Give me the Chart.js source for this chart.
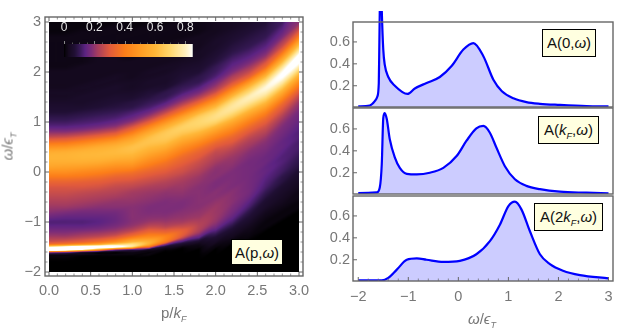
<!DOCTYPE html>
<html>
<head>
<meta charset="utf-8">
<script src="https://cdn.jsdelivr.net/npm/chart.js@4/dist/chart.umd.min.js"></script>
<style>
html, body { margin: 0; padding: 0; background: #fff; }
#page { position: relative; width: 630px; height: 335px; overflow: hidden; font-family: "Liberation Sans", sans-serif; }
canvas { position: absolute; }
.tag { position: absolute; background: #ffffe0; border: 1px solid #000; box-sizing: border-box; color: #111; font-size: 15px; line-height: 26px; text-align: center; white-space: nowrap; }
.title { position: absolute; color: #777; font-size: 15px; white-space: nowrap; }
i sub { font-size: 9px; line-height: 0; }
</style>
</head>
<body>
<div id="page">
  <canvas id="heat" width="320" height="335" style="left:0;top:0"></canvas>
  <canvas id="scale" width="160" height="45" style="left:50px;top:20px"></canvas>
  <canvas id="a0" width="310" height="108" style="left:320px;top:0"></canvas>
  <canvas id="a1" width="310" height="88" style="left:320px;top:107px"></canvas>
  <canvas id="a2" width="310" height="140" style="left:320px;top:195px"></canvas>
  <div class="tag" style="left:231px;top:239px;width:52px;height:26px;border-color:#000">A(p,<i>ω</i>)</div>
  <div class="tag" style="left:542px;top:29px;width:54px;height:28px">A(0,<i>ω</i>)</div>
  <div class="tag" style="left:538px;top:116px;width:61px;height:28px">A(<i>k<sub>F</sub></i>,<i>ω</i>)</div>
  <div class="tag" style="left:534px;top:203px;width:69px;height:28px">A(2<i>k<sub>F</sub></i>,<i>ω</i>)</div>
  <div class="title" style="left:161px;top:304px">p/<i>k<sub>F</sub></i></div>
  <div class="title" style="left:-7px;top:138px;transform:rotate(-90deg)"><i>ω</i>/<i>ϵ<sub>T</sub></i></div>
  <div class="title" style="left:468px;top:310px"><i>ω</i>/<i>ϵ<sub>T</sub></i></div>
</div>
<script>
// heat map grid, one array per p column, values listed along omegaRows
const omegaRows = [3.0,2.9,2.8,2.7,2.6, 2.5,2.4,2.3,2.2,2.1, 2.0,1.9,1.8,1.7,1.6, 1.5,1.4,1.3,1.2,1.1,
  1.0,0.9,0.8,0.7,0.6, 0.5,0.4,0.3,0.2,0.1, 0,-0.1,-0.2,-0.3,-0.4, -0.5,-0.6,-0.7,-0.8,-0.9, -1.0,-1.1,-1.2,-1.3,
  -1.4,-1.45,-1.5,-1.55,-1.6,-1.65,-1.7,-1.8,-1.9,-2.0];
const pColumns = [0,0.2,0.4,0.6,0.8,1.0,1.2,1.4,1.6,1.8,2.0,2.2,2.4,2.6,2.8,3.0];

const p00 = [.01,.01,.01,.02,.02, .02,.02,.02,.02,.02, .03,.03,.03,.03,.04, .04,.05,.06,.07,.09, .11,.14,.19,.26,.36, .47,.56,.59,.57,.53, .46,.39,.33,.29,.27, .25,.23,.21,.19,.16, .13,.15,.18,.22, .28,.40,.80,1.2,.30,.04,.01,0,0,0];
const p02 = [.01,.01,.01,.02,.02, .02,.02,.02,.02,.02, .03,.03,.03,.03,.04, .04,.05,.06,.07,.09, .11,.14,.19,.27,.37, .48,.57,.59,.57,.52, .46,.39,.33,.29,.27, .25,.23,.21,.18,.15, .13,.15,.18,.22, .30,.44,.90,1.1,.25,.03,.01,0,0,0];
const p04 = [.01,.01,.02,.02,.02, .02,.02,.02,.02,.03, .03,.03,.03,.04,.04, .05,.05,.06,.08,.10, .12,.15,.21,.30,.41, .52,.59,.60,.57,.51, .44,.38,.32,.29,.26, .24,.22,.20,.17,.15, .13,.15,.19,.24, .33,.50,1.0,.85,.12,.02,0,0,0,0];
const p06 = [.01,.01,.02,.02,.02, .02,.02,.03,.03,.03, .03,.03,.04,.04,.05, .05,.06,.07,.09,.11, .13,.17,.24,.34,.46, .56,.60,.60,.56,.49, .42,.36,.31,.28,.25, .23,.21,.19,.17,.15, .14,.16,.20,.26, .38,.58,1.0,.55,.05,.01,0,0,0,0];
const p08 = [.01,.02,.02,.02,.02, .02,.03,.03,.03,.03, .03,.04,.04,.05,.05, .06,.07,.08,.10,.12, .15,.20,.28,.39,.51, .59,.61,.59,.53,.46, .39,.33,.29,.26,.24, .22,.20,.19,.17,.16, .16,.18,.22,.30, .46,.70,.90,.25,.02,.01,0,0,0,0];
const p10 = [.01,.01,.02,.02,.02, .02,.02,.02,.03,.03, .03,.03,.04,.04,.05, .06,.08,.09,.12,.15, .20,.29,.39,.50,.58, .63,.62,.58,.52,.45, .37,.32,.28,.25,.22, .21,.20,.19,.19,.19, .19,.21,.27,.39, .60,.74,.70,.15,.03,.01,0,0,0,0];
const p12 = [.01,.02,.02,.02,.02, .02,.03,.03,.03,.03, .04,.04,.05,.05,.07, .08,.10,.12,.16,.22, .31,.43,.54,.62,.64, .61,.56,.50,.44,.38, .33,.29,.26,.23,.21, .20,.19,.18,.18,.19, .21,.26,.34,.45, .58,.55,.35,.06,.01,.01,0,0,0,0];
const p14 = [.01,.02,.02,.02,.02, .03,.03,.03,.03,.04, .04,.05,.05,.06,.09, .10,.13,.18,.25,.35, .47,.58,.65,.66,.63, .57,.50,.44,.38,.34, .30,.27,.24,.22,.20, .19,.18,.18,.18,.19, .21,.25,.33,.42, .38,.18,.05,.01,0,0,0,0,0,0];
const p16 = [.02,.02,.02,.02,.03, .03,.03,.03,.04,.05, .06,.07,.08,.10,.12, .16,.21,.29,.39,.52, .62,.68,.66,.60,.53, .46,.40,.35,.32,.29, .27,.24,.22,.21,.20, .19,.18,.18,.19,.20, .22,.27,.32,.28, .12,.05,.01,0,0,0,0,0,0,0];
const p18 = [.02,.02,.02,.03,.03, .03,.04,.04,.05,.06, .07,.09,.10,.13,.17, .23,.32,.44,.57,.67, .70,.68,.61,.53,.45, .38,.33,.30,.27,.25, .23,.21,.20,.19,.19, .19,.19,.19,.20,.21, .23,.24,.22,.15, .05,.02,.01,0,0,0,0,0,0,0];
const p20 = [.03,.03,.03,.04,.05, .05,.06,.07,.08,.10, .11,.13,.17,.21,.27, .37,.49,.61,.70,.73, .69,.59,.50,.42,.35, .30,.26,.24,.22,.20, .19,.19,.18,.18,.19, .19,.20,.21,.21,.21, .20,.17,.12,.07, .04,.02,.01,0,0,0,0,0,0,0];
const p22 = [.04,.04,.05,.06,.07, .08,.09,.11,.13,.15, .18,.23,.28,.37,.49, .62,.72,.76,.73,.65, .55,.47,.40,.34,.30, .26,.23,.21,.20,.19, .18,.18,.18,.18,.19, .19,.19,.18,.17,.15, .12,.08,.05,.03, .01,0,0,0,0,0,0,0,0,0];
const p24 = [.05,.06,.07,.08,.09, .10,.12,.14,.17,.21, .26,.33,.47,.61,.71, .79,.76,.68,.58,.49, .41,.35,.30,.26,.23, .21,.19,.18,.17,.17, .17,.17,.17,.17,.17, .16,.14,.12,.09,.07, .05,.03,.02,.01, 0,0,0,0,0,0,0,0,0,0];
const p26 = [.07,.08,.09,.10,.12, .14,.17,.21,.28,.35, .48,.62,.74,.82,.80, .72,.62,.52,.43,.36, .31,.27,.24,.21,.19, .18,.17,.16,.16,.15, .15,.14,.13,.12,.10, .08,.06,.05,.03,.02, .01,.01,0,0, 0,0,0,0,0,0,0,0,0,0];
const p28 = [.11,.13,.15,.18,.23, .28,.37,.49,.62,.75, .84,.85,.78,.67,.56, .46,.37,.31,.27,.23, .20,.18,.17,.16,.15, .15,.14,.13,.13,.12, .11,.09,.08,.06,.05, .04,.03,.02,.01,.01, 0,0,0,0, 0,0,0,0,0,0,0,0,0,0];
const p30 = [.19,.24,.31,.41,.54, .67,.80,.88,.86,.78, .66,.55,.45,.37,.30, .25,.21,.19,.17,.16, .15,.14,.13,.13,.12, .12,.11,.10,.09,.08, .06,.05,.04,.03,.02, .02,.01,.01,0,0, 0,0,0,0, 0,0,0,0,0,0,0,0,0,0];
const heatColumns = [p00,p02,p04,p06,p08,p10,p12,p14,p16,p18,p20,p22,p24,p26,p28,p30];

// ridge positions per p column, used to keep the bands continuous between columns
const upperRidge = [0.3,0.31,0.35,0.4,0.47,0.53,0.62,0.74,0.87,1.0,1.13,1.3,1.47,1.68,1.95,2.28];
const lowerRidge = [-1.53,-1.52,-1.5,-1.5,-1.48,-1.47,-1.42,-1.33,-1.22,-1.1,-0.85,-0.6,-0.35,-0.1,0.1,0.3];

// colour scale
const stopValues = [0,.01,.03,.07,.1,.14,.18,.22,.3,.4,.5,.6,.7,.8,.85];
const stopColors = [[0,0,0],[9,4,13],[20,9,30],[32,15,52],[52,24,82],[92,35,130],[125,45,120],[165,60,95],[225,90,60],[252,125,25],[255,155,35],[255,182,55],[255,215,110],[255,240,190],[255,255,255]];

// spectral cuts A(0,w), A(kF,w), A(2kF,w)
const omega0 = [-2,-1.77,-1.67,-1.62,-1.59,-1.58,-1.57,-1.55,-1.53,-1.5,-1.47,-1.4,-1.27,-1.015,-0.87,-0.635,-0.37,-0.135,0.1,0.3,0.5,0.7,0.87,1.1,1.36,1.63,2.03,2.56,3];
const cut0 = [.012,.02,.06,.10,.22,.53,.89,1.3,.89,.53,.39,.28,.2,.125,.175,.225,.28,.38,.53,.59,.47,.255,.15,.085,.05,.035,.025,.015,.012];
const omega1 = [-2,-1.63,-1.57,-1.53,-1.5,-1.47,-1.43,-1.37,-1.27,-1.17,-1.03,-0.83,-0.57,-0.3,-0.03,0.16,0.36,0.5,0.63,0.76,0.93,1.13,1.36,1.63,2.03,2.56,3];
const cut1 = [.015,.02,.065,.28,.70,.745,.69,.505,.34,.245,.19,.185,.2,.245,.355,.49,.605,.627,.565,.43,.26,.14,.08,.05,.027,.018,.012];
const omega2 = [-2,-1.53,-1.4,-1.23,-1.03,-0.83,-0.635,-0.3,0.03,0.36,0.63,0.83,1,1.13,1.26,1.43,1.63,1.83,2.09,2.43,3];
const cut2 = [.012,.012,.035,.11,.2,.213,.2,.18,.19,.25,.37,.52,.69,.73,.66,.46,.25,.16,.1,.06,.03];

// ticks
const pTicks = [0,0.5,1,1.5,2,2.5,3];
const pMinor = [0.1,0.2,0.3,0.4,0.6,0.7,0.8,0.9,1.1,1.2,1.3,1.4,1.6,1.7,1.8,1.9,2.1,2.2,2.3,2.4,2.6,2.7,2.8,2.9];
const omegaTicks = [-2,-1,0,1,2,3];
const omegaMinor = [-1.8,-1.6,-1.4,-1.2,-0.8,-0.6,-0.4,-0.2,0.2,0.4,0.6,0.8,1.2,1.4,1.6,1.8,2.2,2.4,2.6,2.8];
const legendTicks = [0,0.2,0.4,0.6,0.8];
const legendMinor = [0.05,0.1,0.15,0.25,0.3,0.35,0.45,0.5,0.55,0.65,0.7,0.75];
const cutTicksY = [0.2,0.4,0.6];

const GREY = '#666';
const LABEL = '#777';
Chart.defaults.font.family = '"Liberation Sans", sans-serif';
Chart.defaults.animation = false;

function sunset(v) {
    if (v >= stopValues[stopValues.length - 1]) return stopColors[stopColors.length - 1];
    let i = 0;
    while (i < stopValues.length - 2 && v > stopValues[i + 1]) i++;
    const t = Math.max(0, (v - stopValues[i]) / (stopValues[i + 1] - stopValues[i]));
    return stopColors[i].map((c, k) => c + (stopColors[i + 1][k] - c) * t);
}

// locate v in a monotonic list, returns [index, fraction]
function locate(list, v) {
    const sign = list[1] > list[0] ? 1 : -1;
    let i = 0;
    while (i < list.length - 2 && sign * (v - list[i + 1]) > 0) i++;
    return [i, Math.min(1, Math.max(0, (v - list[i]) / (list[i + 1] - list[i])))];
}

// Catmull-Rom smoothing for the image only, the grid stays as read
function smooth(a, b, c, d, t) {
    return b + 0.5 * t * (c - a + t * (2 * a - 5 * b + 4 * c - d + t * (3 * (b - c) + d - a)));
}

function columnAt(col, w) {
    const [r, t] = locate(omegaRows, w);
    const last = omegaRows.length - 1;
    return Math.max(0, smooth(col[Math.max(0, r - 1)], col[r], col[r + 1], col[Math.min(last, r + 2)], t));
}

// blend two columns with the bands lined up, so the ridges do not scallop
function heatAt(p, w) {
    const [c, u] = locate(pColumns, p);
    const upper = upperRidge[c] + (upperRidge[c + 1] - upperRidge[c]) * u;
    const lower = lowerRidge[c] + (lowerRidge[c + 1] - lowerRidge[c]) * u;
    const f = Math.min(1, Math.max(0, (w - lower) / (upper - lower)));
    const shift = (lowerRidge[c + 1] - lowerRidge[c]) * (1 - f) + (upperRidge[c + 1] - upperRidge[c]) * f;
    const a = columnAt(heatColumns[c], w - u * shift);
    const b = columnAt(heatColumns[c + 1], w + (1 - u) * shift);
    return a * (1 - u) + b * u;
}

const heatPlugin = {
    id: 'heatImage',
    beforeDatasetsDraw(chart) {
        const xs = chart.scales.x, ys = chart.scales.y;
        const x0 = Math.round(xs.getPixelForValue(pColumns[0]));
        const x1 = Math.round(xs.getPixelForValue(pColumns[pColumns.length - 1]));
        const y0 = Math.round(ys.getPixelForValue(omegaRows[0]));
        const y1 = Math.round(ys.getPixelForValue(omegaRows[omegaRows.length - 1]));
        const off = document.createElement('canvas');
        off.width = x1 - x0;
        off.height = y1 - y0;
        const octx = off.getContext('2d');
        const img = octx.createImageData(off.width, off.height);
        for (let j = 0; j < off.height; j++) {
            const w = ys.getValueForPixel(y0 + j + 0.5);
            for (let i = 0; i < off.width; i++) {
                const col = sunset(heatAt(xs.getValueForPixel(x0 + i + 0.5), w));
                const n = (j * off.width + i) * 4;
                img.data[n] = col[0]; img.data[n + 1] = col[1]; img.data[n + 2] = col[2]; img.data[n + 3] = 255;
            }
        }
        octx.putImageData(img, 0, 0);
        chart.ctx.drawImage(off, x0, y0);
    }
};

const legendPlugin = {
    id: 'legendBar',
    beforeDatasetsDraw(chart) {
        const a = chart.chartArea, xs = chart.scales.x, ctx = chart.ctx;
        for (let px = Math.round(a.left); px < a.right; px++) {
            const c = sunset(xs.getValueForPixel(px + 0.5));
            ctx.fillStyle = `rgb(${c[0]},${c[1]},${c[2]})`;
            ctx.fillRect(px, a.top, 1, a.bottom - a.top);
        }
        ctx.strokeStyle = '#888';
        ctx.lineWidth = 1;
        const mark = (v, len) => {
            const px = Math.round(xs.getPixelForValue(v)) + 0.5;
            ctx.beginPath();
            ctx.moveTo(px, a.top);
            ctx.lineTo(px, a.top - len);
            ctx.stroke();
        };
        legendTicks.forEach(v => mark(v, 3));
        ctx.strokeStyle = '#555';
        legendMinor.forEach(v => mark(v, 1.5));
        ctx.strokeStyle = '#bbb';
        ctx.beginPath();
        ctx.moveTo(a.right - 0.5, a.top);
        ctx.lineTo(a.right - 0.5, a.bottom);
        ctx.stroke();
    }
};

// frame with inward major and minor ticks
const framePlugin = {
    id: 'frameTicks',
    afterDraw(chart, args, opts) {
        const a = chart.chartArea, ctx = chart.ctx;
        const xs = chart.scales.x, ys = chart.scales.y;
        ctx.save();
        ctx.strokeStyle = GREY;
        const line = (x1, y1, x2, y2) => { ctx.beginPath(); ctx.moveTo(x1, y1); ctx.lineTo(x2, y2); ctx.stroke(); };
        const xMark = (v, len) => {
            const px = xs.getPixelForValue(v);
            if (opts.bottom) line(px, a.bottom, px, a.bottom - len);
            if (opts.top) line(px, a.top, px, a.top + len);
        };
        const yMark = (v, len) => {
            const py = ys.getPixelForValue(v);
            line(a.left, py, a.left + len, py);
            if (opts.right) line(a.right, py, a.right - len, py);
        };
        ctx.lineWidth = 1;
        (opts.xMajor || []).forEach(v => xMark(v, opts.majorLen));
        (opts.yMajor || []).forEach(v => yMark(v, opts.majorLen));
        ctx.lineWidth = 0.7;
        (opts.xMinor || []).forEach(v => xMark(v, opts.minorLen));
        (opts.yMinor || []).forEach(v => yMark(v, opts.minorLen));
        ctx.lineWidth = 1.4;
        ctx.strokeRect(a.left, a.top, a.right - a.left, a.bottom - a.top);
        ctx.restore();
    }
};

function fixedTicks(values) {
    return scale => { scale.ticks = values.map(v => ({ value: v })); };
}
function minusLabel(v, digits) {
    return (digits ? v.toFixed(digits) : String(v)).replace('-', '\u2212');
}
// exact axis size, no room kept for half labels
function fitAxis(size) {
    return s => {
        if (s.isHorizontal()) s.height = size; else s.width = size;
        s.paddingTop = s.paddingBottom = s.paddingLeft = s.paddingRight = 0;
    };
}
const plainGrid = { display: false, drawTicks: false };

new Chart(document.getElementById('heat'), {
    type: 'scatter',
    data: { datasets: [] },
    options: {
        responsive: false,
        layout: { padding: { top: 17, right: 17, left: 0, bottom: 0 } },
        plugins: {
            legend: { display: false },
            tooltip: { enabled: false },
            frameTicks: { xMajor: pTicks, xMinor: pMinor, yMajor: omegaTicks, yMinor: omegaMinor, top: true, bottom: true, right: true, majorLen: 4, minorLen: 2.5 }
        },
        scales: {
            x: {
                type: 'linear', min: -0.048, max: 3.048,
                grid: plainGrid, border: { display: false },
                afterBuildTicks: fixedTicks(pTicks),
                afterFit: fitAxis(59),
                ticks: { color: LABEL, font: { size: 14.5 }, padding: 6, maxRotation: 0, autoSkip: false, callback: v => minusLabel(v, 1) }
            },
            y: {
                type: 'linear', min: -2.08, max: 3.1,
                grid: plainGrid, border: { display: false },
                afterBuildTicks: fixedTicks(omegaTicks),
                afterFit: fitAxis(45),
                ticks: { color: LABEL, font: { size: 14.5 }, padding: 4, autoSkip: false, callback: v => minusLabel(v) }
            }
        }
    },
    plugins: [heatPlugin, framePlugin]
});

new Chart(document.getElementById('scale'), {
    type: 'scatter',
    data: { datasets: [] },
    options: {
        responsive: false,
        layout: { padding: { top: 0, right: 17, left: 14, bottom: 8 } },
        plugins: { legend: { display: false }, tooltip: { enabled: false } },
        scales: {
            x: {
                type: 'linear', position: 'top', min: 0, max: 0.85,
                grid: plainGrid, border: { display: false },
                afterBuildTicks: fixedTicks(legendTicks),
                afterFit: fitAxis(24),
                ticks: { color: '#e6e6e6', font: { size: 12 }, padding: 9, maxRotation: 0, autoSkip: false, callback: v => String(v) }
            },
            y: { display: false, min: 0, max: 1 }
        }
    },
    plugins: [legendPlugin]
});

function makeCut(id, omega, values, yMax, withLabels, pad) {
    return new Chart(document.getElementById(id), {
        type: 'scatter',
        data: {
            datasets: [{
                data: omega.map((x, i) => ({ x: x, y: values[i] })),
                showLine: true,
                borderColor: '#0000ff',
                backgroundColor: '#ccccff',
                borderWidth: 2.2,
                fill: 'origin',
                cubicInterpolationMode: 'monotone',
                pointRadius: 0,
                clip: { left: 0, right: 0, bottom: 0, top: 11 }
            }]
        },
        options: {
            responsive: false,
            layout: { padding: { top: pad.top, right: 17, left: 0, bottom: 0 } },
            plugins: {
                legend: { display: false },
                tooltip: { enabled: false },
                frameTicks: { xMajor: omegaTicks, xMinor: omegaMinor, yMajor: cutTicksY, bottom: withLabels, majorLen: 4, minorLen: 2.5 }
            },
            scales: {
                x: {
                    type: 'linear', min: -2.105, max: 3.09,
                    grid: plainGrid, border: { display: false },
                    afterBuildTicks: fixedTicks(omegaTicks),
                    afterFit: fitAxis(pad.bottom),
                    ticks: { display: withLabels, color: LABEL, font: { size: 14.5 }, padding: 7, maxRotation: 0, autoSkip: false, callback: v => minusLabel(v) }
                },
                y: {
                    type: 'linear', min: 0.006, max: yMax,
                    grid: plainGrid, border: { display: false },
                    afterBuildTicks: fixedTicks(cutTicksY),
                    afterFit: fitAxis(33),
                    ticks: { color: LABEL, font: { size: 14.5 }, padding: 3, autoSkip: false, callback: v => minusLabel(v, 1) }
                }
            }
        },
        plugins: [framePlugin]
    });
}

makeCut('a0', omega0, cut0, 0.782, false, { top: 22, bottom: 1 });
makeCut('a1', omega1, cut1, 0.791, false, { top: 1, bottom: 1 });
makeCut('a2', omega2, cut2, 0.782, true, { top: 1, bottom: 54 });
</script>
</body>
</html>
